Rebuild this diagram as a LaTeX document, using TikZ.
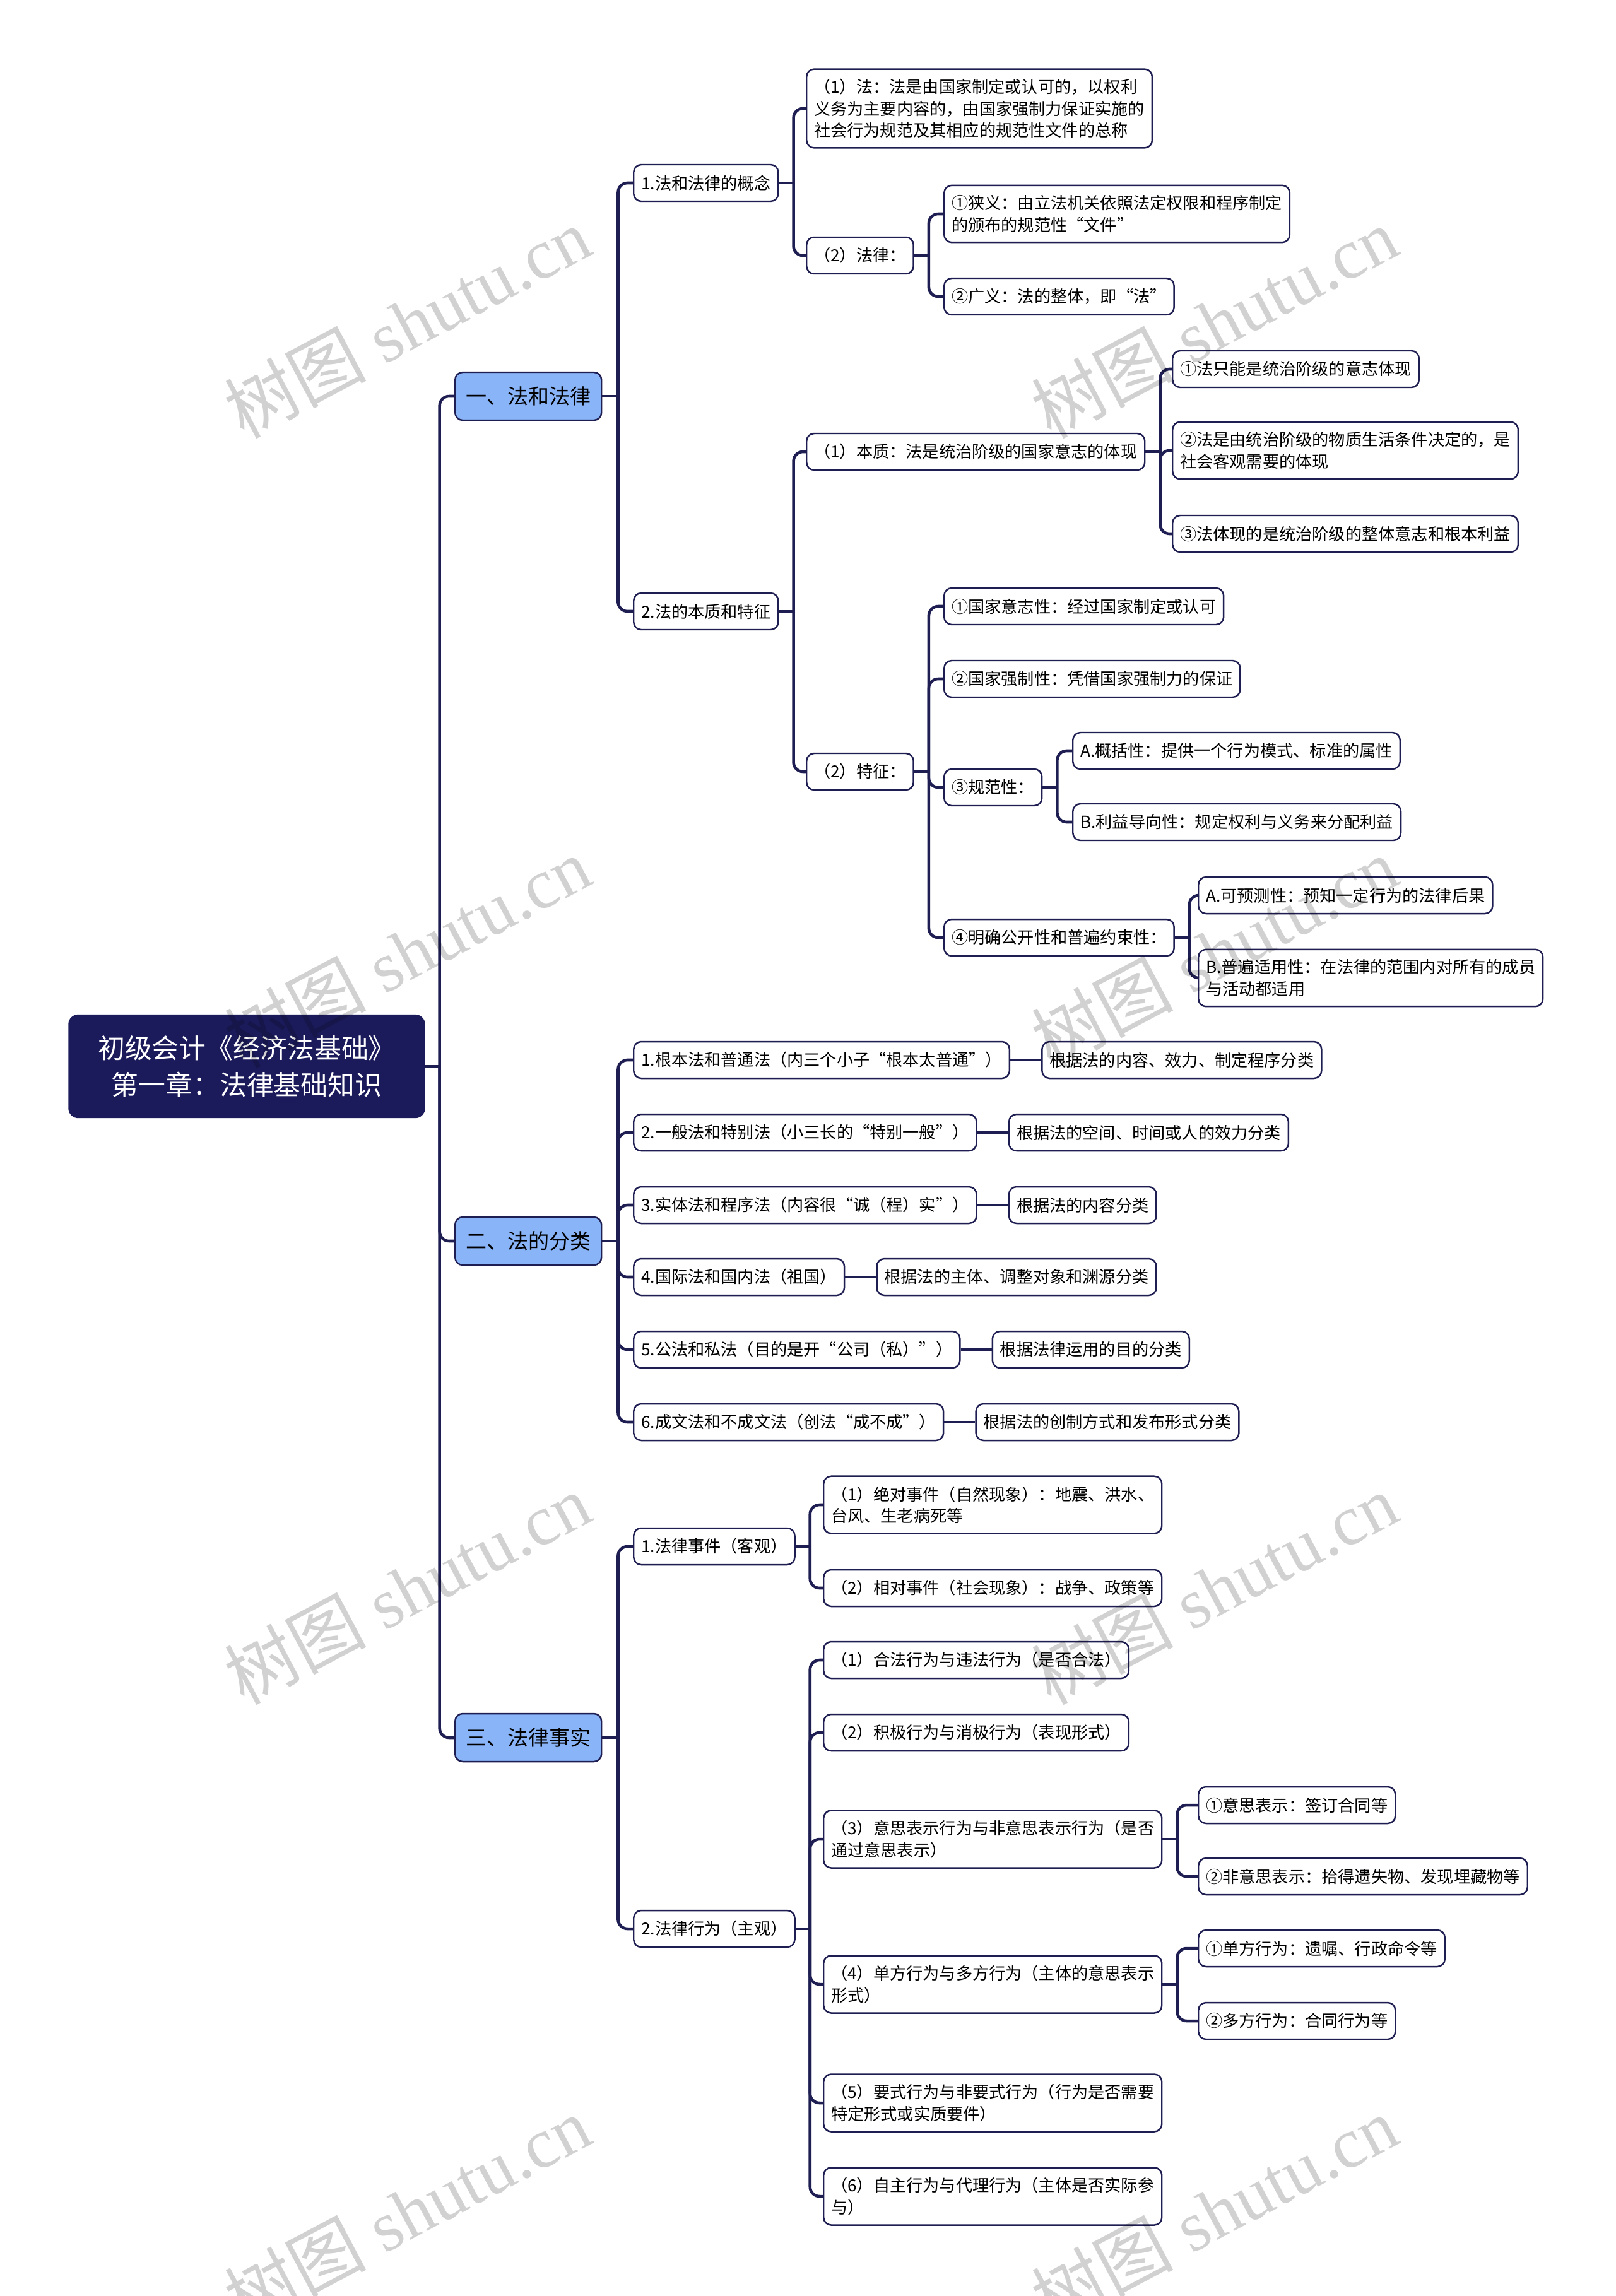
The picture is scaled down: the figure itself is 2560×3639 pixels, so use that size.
\documentclass[tikz,border=0pt]{standalone}
\usepackage{fontspec}
\usepackage{xcolor}
\newfontfamily\cjk{Noto Sans CJK SC}
\newfontfamily\wmfont{Liberation Serif}
\usepackage{tikz}
\usetikzlibrary{positioning,calc}

\definecolor{navy}{RGB}{27,27,92}
\definecolor{linec}{RGB}{30,30,82}
\definecolor{topicblue}{RGB}{138,180,248}

\begin{document}
\begin{tikzpicture}[x=0.1mm, y=-0.1mm,
  box/.style   = {rectangle, draw=linec, line width=0.7pt, rounded corners=1.2mm,
                  fill=white, inner xsep=1.2mm, inner ysep=1.6mm,
                  minimum height=5.8mm, align=left, anchor=west,
                  font=\cjk\fontsize{7.45pt}{9.7pt}\selectfont},
  topic/.style = {box, fill=topicblue, minimum width=23.2mm, minimum height=7.6mm,
                  align=center, font=\cjk\fontsize{9.4pt}{12pt}\selectfont},
  root/.style  = {rectangle, draw=navy, fill=navy, rounded corners=1.5mm,
                  text=white, minimum width=56.4mm, minimum height=16.3mm,
                  align=center, font=\cjk\fontsize{12.2pt}{16.5pt}\selectfont},
  conn/.style  = {draw=linec, line width=1.3pt, rounded corners=1.5mm},
  wm/.style    = {text=black, text opacity=0.18, rotate=28,
                  font=\wmfont\fontsize{32pt}{32pt}\selectfont}
]
\useasboundingbox (0,0) rectangle (2560,3639);

% --- root and main topics ---
\node[root] (root) at (391,1690) {初级会计《经济法基础》\\第一章：法律基础知识};
\node[topic] (law)  at (720,628)  {一、法和法律};
\node[topic] (cls)  at (720,1967) {二、法的分类};
\node[topic] (fact) at (720,2754) {三、法律事实};

% --- 一、法和法律 ---
\node[box] (concept) at (1003,290) {1.法和法律的概念};
\node[box] (essence) at (1003,969) {2.法的本质和特征};

\node[box] (fa)     at (1277,172) {（1）法：法是由国家制定或认可的，以权利\\义务为主要内容的，由国家强制力保证实施的\\社会行为规范及其相应的规范性文件的总称};
\node[box] (falv)   at (1277,405) {（2）法律：};
\node[box] (narrow) at (1495,339) {①狭义：由立法机关依照法定权限和程序制定\\的颁布的规范性“文件”};
\node[box] (broad)  at (1495,470) {②广义：法的整体，即“法”};

\node[box] (nature) at (1277,716)  {（1）本质：法是统治阶级的国家意志的体现};
\node[box] (feat)   at (1277,1223) {（2）特征：};
\node[box] (nat1)   at (1857,585) {①法只能是统治阶级的意志体现};
\node[box] (nat2)   at (1857,714) {②法是由统治阶级的物质生活条件决定的，是\\社会客观需要的体现};
\node[box] (nat3)   at (1857,846) {③法体现的是统治阶级的整体意志和根本利益};

\node[box] (feat1)  at (1495,961)  {①国家意志性：经过国家制定或认可};
\node[box] (feat2)  at (1495,1076) {②国家强制性：凭借国家强制力的保证};
\node[box] (feat3)  at (1495,1248) {③规范性：};
\node[box] (feat4)  at (1495,1486) {④明确公开性和普遍约束性：};
\node[box] (feat3a) at (1699,1190) {A.概括性：提供一个行为模式、标准的属性};
\node[box] (feat3b) at (1699,1303) {B.利益导向性：规定权利与义务来分配利益};
\node[box] (feat4a) at (1898,1419) {A.可预测性：预知一定行为的法律后果};
\node[box] (feat4b) at (1898,1550) {B.普遍适用性：在法律的范围内对所有的成员\\与活动都适用};

% --- 二、法的分类 ---
\node[box] (kind1) at (1003,1680) {1.根本法和普通法（内三个小子“根本太普通”）};
\node[box] (kind2) at (1003,1795) {2.一般法和特别法（小三长的“特别一般”）};
\node[box] (kind3) at (1003,1910) {3.实体法和程序法（内容很“诚（程）实”）};
\node[box] (kind4) at (1003,2024) {4.国际法和国内法（祖国）};
\node[box] (kind5) at (1003,2139) {5.公法和私法（目的是开“公司（私）”）};
\node[box] (kind6) at (1003,2254) {6.成文法和不成文法（创法“成不成”）};
\node[box, right=4.9mm of kind1] (basis1) {根据法的内容、效力、制定程序分类};
\node[box, right=4.9mm of kind2] (basis2) {根据法的空间、时间或人的效力分类};
\node[box, right=4.9mm of kind3] (basis3) {根据法的内容分类};
\node[box, right=4.9mm of kind4] (basis4) {根据法的主体、调整对象和渊源分类};
\node[box, right=4.9mm of kind5] (basis5) {根据法律运用的目的分类};
\node[box, right=4.9mm of kind6] (basis6) {根据法的创制方式和发布形式分类};

% --- 三、法律事实 ---
\node[box] (event) at (1003,2451) {1.法律事件（客观）};
\node[box] (act)   at (1003,3057) {2.法律行为（主观）};
\node[box] (ev1)   at (1304,2385) {（1）绝对事件（自然现象）：地震、洪水、\\台风、生老病死等};
\node[box] (ev2)   at (1304,2517) {（2）相对事件（社会现象）：战争、政策等};
\node[box] (act1)  at (1304,2631) {（1）合法行为与违法行为（是否合法）};
\node[box] (act2)  at (1304,2746) {（2）积极行为与消极行为（表现形式）};
\node[box] (act3)  at (1304,2915) {（3）意思表示行为与非意思表示行为（是否\\通过意思表示）};
\node[box] (act4)  at (1304,3145) {（4）单方行为与多方行为（主体的意思表示\\形式）};
\node[box] (act5)  at (1304,3333) {（5）要式行为与非要式行为（行为是否需要\\特定形式或实质要件）};
\node[box] (act6)  at (1304,3481) {（6）自主行为与代理行为（主体是否实际参\\与）};
\node[box] (act3a) at (1898,2861) {①意思表示：签订合同等};
\node[box] (act3b) at (1898,2974) {②非意思表示：拾得遗失物、发现埋藏物等};
\node[box] (act4a) at (1898,3088) {①单方行为：遗嘱、行政命令等};
\node[box] (act4b) at (1898,3203) {②多方行为：合同行为等};

% --- connectors: root ---
\draw[conn] (root.east) -- ++(23,0) coordinate (jroot);
\draw[conn] (jroot) |- (law.west);
\draw[conn] (jroot) |- (cls.west);
\draw[conn] (jroot) |- (fact.west);

% --- connectors: 一 ---
\draw[conn] (law.east) -- ++(25,0) coordinate (jlaw);
\draw[conn] (jlaw) |- (concept.west);
\draw[conn] (jlaw) |- (essence.west);
\draw[conn] (concept.east) -- ++(23,0) coordinate (jcon);
\draw[conn] (jcon) |- (fa.west);
\draw[conn] (jcon) |- (falv.west);
\draw[conn] (falv.east) -- ++(23,0) coordinate (jfalv);
\draw[conn] (jfalv) |- (narrow.west);
\draw[conn] (jfalv) |- (broad.west);
\draw[conn] (essence.east) -- ++(23,0) coordinate (jess);
\draw[conn] (jess) |- (nature.west);
\draw[conn] (jess) |- (feat.west);
\draw[conn] (nature.east) -- ++(23,0) coordinate (jnat);
\draw[conn] (jnat) |- (nat1.west);
\draw[conn] (jnat) |- (nat2.west);
\draw[conn] (jnat) |- (nat3.west);
\draw[conn] (feat.east) -- ++(23,0) coordinate (jfeat);
\draw[conn] (jfeat) |- (feat1.west);
\draw[conn] (jfeat) |- (feat2.west);
\draw[conn] (jfeat) |- (feat3.west);
\draw[conn] (jfeat) |- (feat4.west);
\draw[conn] (feat3.east) -- ++(23,0) coordinate (jf3);
\draw[conn] (jf3) |- (feat3a.west);
\draw[conn] (jf3) |- (feat3b.west);
\draw[conn] (feat4.east) -- ++(23,0) coordinate (jf4);
\draw[conn] (jf4) |- (feat4a.west);
\draw[conn] (jf4) |- (feat4b.west);

% --- connectors: 二 ---
\draw[conn] (cls.east) -- ++(25,0) coordinate (jcls);
\draw[conn] (jcls) |- (kind1.west);
\draw[conn] (jcls) |- (kind2.west);
\draw[conn] (jcls) |- (kind3.west);
\draw[conn] (jcls) |- (kind4.west);
\draw[conn] (jcls) |- (kind5.west);
\draw[conn] (jcls) |- (kind6.west);
\draw[conn] (kind1) -- (basis1);
\draw[conn] (kind2) -- (basis2);
\draw[conn] (kind3) -- (basis3);
\draw[conn] (kind4) -- (basis4);
\draw[conn] (kind5) -- (basis5);
\draw[conn] (kind6) -- (basis6);

% --- connectors: 三 ---
\draw[conn] (fact.east) -- ++(25,0) coordinate (jfact);
\draw[conn] (jfact) |- (event.west);
\draw[conn] (jfact) |- (act.west);
\draw[conn] (event.east) -- ++(23,0) coordinate (jev);
\draw[conn] (jev) |- (ev1.west);
\draw[conn] (jev) |- (ev2.west);
\draw[conn] (act.east) -- ++(23,0) coordinate (jact);
\draw[conn] (jact) |- (act1.west);
\draw[conn] (jact) |- (act2.west);
\draw[conn] (jact) |- (act3.west);
\draw[conn] (jact) |- (act4.west);
\draw[conn] (jact) |- (act5.west);
\draw[conn] (jact) |- (act6.west);
\draw[conn] (act3.east) -- ++(23,0) coordinate (ja3);
\draw[conn] (ja3) |- (act3a.west);
\draw[conn] (ja3) |- (act3b.west);
\draw[conn] (act4.east) -- ++(23,0) coordinate (ja4);
\draw[conn] (ja4) |- (act4a.west);
\draw[conn] (ja4) |- (act4b.west);

% --- watermarks ---
\node[wm] (wm1) at (645,511)   {{\cjk 树图} shutu.cn};
\node[wm] (wm2) at (1924,511)  {{\cjk 树图} shutu.cn};
\node[wm] (wm3) at (645,1509)  {{\cjk 树图} shutu.cn};
\node[wm] (wm4) at (1924,1509) {{\cjk 树图} shutu.cn};
\node[wm] (wm5) at (645,2518)  {{\cjk 树图} shutu.cn};
\node[wm] (wm6) at (1924,2518) {{\cjk 树图} shutu.cn};
\node[wm] (wm7) at (645,3505)  {{\cjk 树图} shutu.cn};
\node[wm] (wm8) at (1924,3505) {{\cjk 树图} shutu.cn};

\end{tikzpicture}
\end{document}
